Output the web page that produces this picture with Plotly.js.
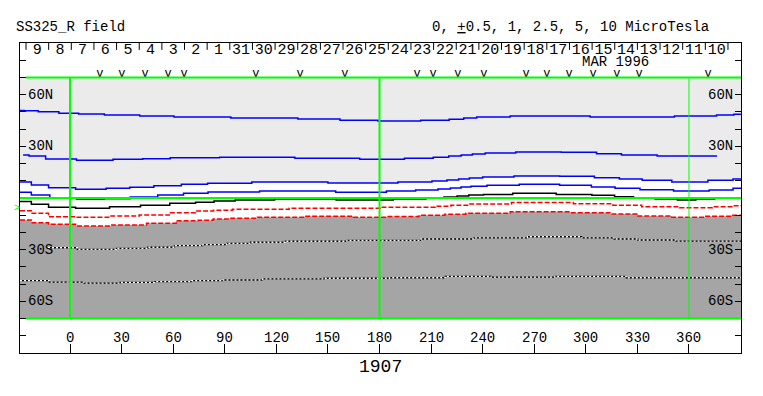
<!DOCTYPE html>
<html><head><meta charset="utf-8">
<script src="https://cdn.plot.ly/plotly-3.0.1.min.js"></script>
<style>html,body{margin:0;padding:0;background:#fff}</style>
</head><body><div id="chart" style="width:763px;height:396px"></div>
<script>
// Contour lines (Carrington longitude, latitude)
const L1_lon=[-29.1,-24,-13,0,10,30,51,70,117,148,166,192,216,225,233,240,272,333,370,382,390.25];
const L1_lat=[50.8,50.7,50.1,49.2,48.8,48.2,47.6,47.0,46.5,45.9,45.1,44.7,45.1,45.7,46.5,47.0,47.6,47.0,47.6,48.2,48.6];
const L2_lon=[-27.3,-20.4,-8,15.5,34.5,50,66.5,107.5,154,183,206,216.5,224,231,237,246,272.5,299,313.5,328,355,376.3];
const L2_lat=[25.0,24.4,22.6,21.9,22.5,22.8,23.4,23.6,23.1,22.5,23.1,23.6,24.4,25.0,25.5,26.1,26.7,26.5,25.7,25.0,24.4,24.4];
const L3_lon=[-29.1,-26.5,-18.5,-6.5,13,29,40.5,57,72.5,87.5,124,176,205.5,215.5,223,229,235.5,244.5,272,297.5,312.5,326.5,339,361,381,390.25];
const L3_lat=[9.3,9.3,7.5,6.0,5.05,5.6,6.2,7.1,7.95,8.5,9.3,8.7,9.3,9.9,10.5,11.0,11.6,12.2,12.8,12.6,11.8,11.0,10.3,9.3,10.3,11.0];
const L4_lon=[-29.1,-26.5,-18.5,-5,12.5,27,43,59,73,87.5,133,176,192,210,218,224.5,230.3,236,249,273.5,296,310.5,323.5,339.5,362.5,381,390.25];
const L4_lat=[3.3,3.3,1.7,0.2,-0.75,-0.4,0.6,1.7,2.7,3.5,4.1,3.3,4.1,4.6,5.2,5.8,6.4,6.8,7.4,7.95,7.4,6.4,5.6,4.8,4.1,4.6,5.6];
const B0_lon=[-29.1,-26.5,-18.5,-6.5,13,33,49,67,79,88.5,103.5,134.5,175,201,213,222,228.3,235.5,245.5,269.5,296,311,322.5,333,347.5,359,369,381,390.25];
const B0_lat=[-2.1,-2.1,-3.7,-5.4,-6.0,-5.05,-4.2,-3.1,-2.5,-1.7,-1.2,-0.6,-1.2,-0.6,-0.2,0.6,1.2,1.7,2.1,2.7,2.1,1.6,0.75,-0.2,-0.6,-1.2,-0.6,-0.2,0.2];
const R1_lon=[-29.1,-26.5,-18.5,-6.5,13,32,48.5,67,79,88,101,154,207,218,225,237.5,276,309.5,322,343,366,381,390.25];
const R1_lat=[-7.4,-7.4,-8.9,-10.9,-11.2,-10.5,-9.9,-8.5,-7.5,-7.1,-6.6,-6.0,-5.4,-4.8,-4.2,-3.5,-2.6,-3.3,-4.2,-5.05,-5.6,-5.05,-4.5];
const R2_lon=[-29.1,-26.5,-18.5,-6.5,13,35.5,53.5,70,79,87.5,98.5,119.5,153.5,176,193,213,223,237.5,274.5,307,321,339.5,360.5,379,390.25];
const R2_lat=[-12.8,-12.8,-14.3,-15.3,-16.3,-15.7,-14.7,-13.2,-12.9,-12.2,-11.8,-11.2,-10.6,-11.2,-10.8,-10.0,-9.5,-8.9,-8.0,-8.5,-9.3,-10.5,-11.2,-10.6,-10.0];
const W1_lon=[-12.8,-7,15.5,38.5,52,69.5,85,97,113,137.5,184.5,223,247,285,310,323,337.5,367.5,390.25];
const W1_lat=[-28.9,-28.9,-29.8,-29.2,-28.6,-27.7,-27.1,-26.3,-25.7,-25.1,-24.6,-23.8,-23.1,-22.5,-23.2,-23.8,-24.4,-25.0,-25.0];
const W2_lon=[-29.1,-21,-3,19.5,38.5,59.5,81.5,96,128,167.5,204,232.5,257,307,340,390.25];
const W2_lat=[-48.0,-48.0,-48.8,-49.4,-49.0,-48.6,-48.0,-47.6,-47.0,-46.6,-46.3,-45.5,-46.0,-45.5,-46.3,-46.3];

// Axis / labels
const lonTicks=[0,30,60,90,120,150,180,210,240,270,300,330,360];
const latTicks=[-80,-70,-60,-50,-40,-30,-20,-10,0,10,20,30,40,50,60,70,80];
const latLabelVals=[60,30,-30,-60];
const latLabelText=['60N','30N','30S','60S'];
const dayLabels=['9','8','7','6','5','4','3','2','1','31','30','29','28','27','26','25','24','23','22','21','20','19','18','17','16','15','14','13','12','11','10'];
const dayStartLon=-25.6, dayStep=13.17;
const obsLons=[17.4,30.2,43.6,57.0,66.3,108.1,133.8,159.9,201.8,211.1,225.6,240.7,265.2,277.4,290.2,304.2,318.1,331.0,371.1];
const gridLons=[0,180,360];
const XMIN=-29.1, XMAX=390.25, LATMAX=70;

const font='Liberation Mono, Courier New, monospace';
const last=a=>a[a.length-1];

const dayEdges=[]; for(let k=0;k<=dayLabels.length;k++) dayEdges.push(dayStartLon+dayStep*k);
const dayCenters=dayLabels.map((d,k)=>(dayEdges[k]+dayEdges[k+1])/2);

function line(x,y,color,width,dash){return {x:x,y:y,mode:'lines',type:'scatter',line:{color:color,width:width,dash:dash||'solid',shape:'hvh'},hoverinfo:'skip',showlegend:false};}

const traces=[
 {x:L3_lon.concat([last(L3_lon),L3_lon[0]]),y:L3_lat.concat([LATMAX,LATMAX]),fill:'toself',fillcolor:'#ebebeb',mode:'lines',line:{width:0,shape:'hvh'},hoverinfo:'skip',showlegend:false},
 {x:R2_lon.concat([last(R2_lon),R2_lon[0]]),y:R2_lat.concat([-LATMAX,-LATMAX]),fill:'toself',fillcolor:'#a5a5a5',mode:'lines',line:{width:0,shape:'hvh'},hoverinfo:'skip',showlegend:false},
 line(W2_lon,W2_lat,'#000',1.3), line(W2_lon,W2_lat,'#fff',1.3,'2px,2px'),
 line(W1_lon,W1_lat,'#000',1.3), line(W1_lon,W1_lat,'#fff',1.3,'2px,2px'),
 line(R2_lon,R2_lat,'#ff0000',1.5,'5px,2px'),
 line(R1_lon,R1_lat,'#ff0000',1.5,'5px,2px'),
 line(B0_lon,B0_lat,'#000000',1.5),
 line(L4_lon,L4_lat,'#0000ff',1.5),
 line(L3_lon,L3_lat,'#0000ff',1.5),
 line(L2_lon,L2_lat,'#0000ff',1.5),
 line(L1_lon,L1_lat,'#0000ff',1.5),
 {x:dayCenters,y:dayCenters.map(()=>85.6),text:dayLabels,mode:'text',textfont:{family:font,size:15,color:'#000'},hoverinfo:'skip',showlegend:false,cliponaxis:false},
 {x:obsLons,y:obsLons.map(()=>71.9),text:obsLons.map(()=>'v'),mode:'text',textfont:{family:font,size:12,color:'#000'},hoverinfo:'skip',showlegend:false,cliponaxis:false}
];

const shapes=[];
const green='#00ff00';
shapes.push({type:'line',xref:'x',yref:'y',x0:dayStartLon,x1:XMAX,y0:LATMAX,y1:LATMAX,line:{color:green,width:2}});
shapes.push({type:'line',xref:'x',yref:'y',x0:dayStartLon,x1:XMAX,y0:-LATMAX,y1:-LATMAX,line:{color:green,width:2}});
shapes.push({type:'line',xref:'x',yref:'y',x0:XMIN,x1:XMAX,y0:0,y1:0,line:{color:green,width:2}});
gridLons.forEach((g,i)=>shapes.push({type:'line',xref:'x',yref:'y',x0:g,x1:g,y0:-LATMAX,y1:LATMAX,line:{color:green,width:i<2?2:1}}));
dayEdges.forEach(e=>shapes.push({type:'line',xref:'x',yref:'y',x0:e,x1:e,y0:90,y1:86,line:{color:'#000',width:1}}));

const ann=[];
const tf=(s)=>({family:font,size:s,color:'#000'});
latLabelVals.forEach((v,i)=>{
  ann.push({xref:'x',yref:'y',x:-25.0,y:v,text:latLabelText[i],showarrow:false,xanchor:'left',yanchor:'middle',font:tf(14),borderpad:0});
  ann.push({xref:'x',yref:'y',x:386.2,y:v,text:latLabelText[i],showarrow:false,xanchor:'right',yanchor:'middle',font:tf(14),borderpad:0});
});
lonTicks.forEach(v=>ann.push({xref:'x',yref:'y',x:v,y:-81.3,text:String(v),showarrow:false,xanchor:'center',yanchor:'middle',font:tf(14),borderpad:0}));
ann.push({xref:'paper',yref:'paper',x:0.5,y:-0.045,text:'1907',showarrow:false,xanchor:'center',yanchor:'middle',font:tf(18)});
ann.push({xref:'paper',yref:'paper',x:-0.0069,y:1.05,text:'SS325_R field',showarrow:false,xanchor:'left',yanchor:'middle',font:tf(14),borderpad:0});
ann.push({xref:'paper',yref:'paper',x:0.5707,y:1.05,text:'0, <u>+</u>0.5, 1, 2.5, 5, 10 MicroTesla',showarrow:false,xanchor:'left',yanchor:'middle',font:tf(14),borderpad:0});
ann.push({xref:'x',yref:'y',x:317,y:79.0,text:'MAR 1996',showarrow:false,xanchor:'center',yanchor:'middle',font:tf(14),borderpad:0});
ann.push({xref:'paper',yref:'y',x:-0.0045,y:-6.1,text:'>',showarrow:false,xanchor:'center',yanchor:'middle',font:{family:font,size:10,color:green},borderpad:0});

const layout={
 width:763,height:396,margin:{l:20,r:22,t:43,b:43},
 paper_bgcolor:'#fff',plot_bgcolor:'#fff',showlegend:false,
 xaxis:{range:[XMIN,XMAX],showgrid:false,zeroline:false,showline:true,mirror:true,linecolor:'#000',linewidth:1,
   ticks:'inside',tickvals:lonTicks,ticklen:9,tickcolor:'#000',tickwidth:1,showticklabels:false},
 yaxis:{range:[-90,90],showgrid:false,zeroline:false,showline:true,mirror:'ticks',linecolor:'#000',linewidth:1,
   ticks:'inside',tickvals:latTicks,ticklen:6,tickcolor:'#000',tickwidth:1,showticklabels:false},
 shapes:shapes,annotations:ann
};
Plotly.newPlot('chart',traces,layout,{displayModeBar:false,staticPlot:true});
</script></body></html>
